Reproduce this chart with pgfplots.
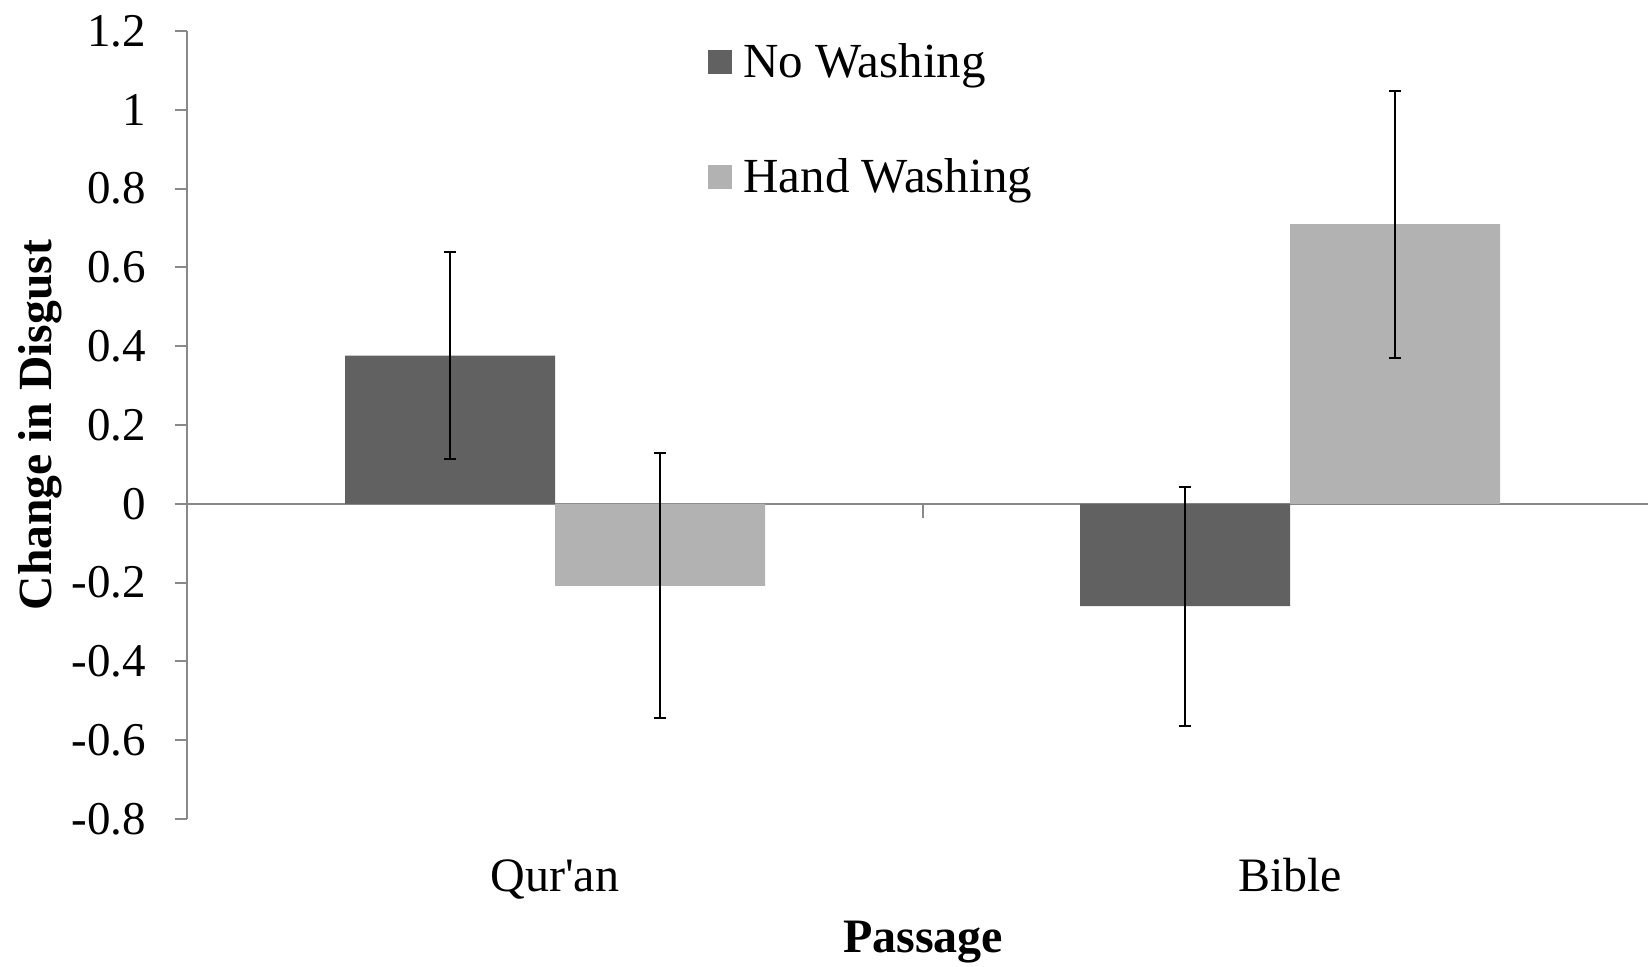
\documentclass[border=0pt]{standalone}
\usepackage{pgfplots}
\pgfplotsset{compat=1.18}
\usepackage{pgfplotstable}
\usepackage{fontspec}
\setmainfont{Liberation Serif}
\definecolor{darkbar}{RGB}{97,97,97}
\definecolor{lightbar}{RGB}{178,178,178}
\definecolor{axisgray}{RGB}{137,137,137}

\pgfplotstableread{
x y e
0 0.376 0.262
1 -0.260 0.303
}\nowash
\pgfplotstableread{
x y e
0 -0.208 0.336
1 0.710 0.339
}\handwash

\begin{document}
\begin{tikzpicture}
\begin{axis}[
  at={(0,0)}, anchor=south west,
  scale only axis,
  width=730.25pt, height=394pt,
  xmin=-0.5, xmax=1.487,
  ymin=-0.8, ymax=1.2,
  clip=false,
  ybar=0pt, bar width=105pt,
  font=\fontsize{23.5}{27}\selectfont,
  axis y line*=left,
  axis x line*=bottom,
  x axis line style={draw=none},
  y axis line style={axisgray, line width=1pt},
  ytick={-0.8,-0.6,-0.4,-0.2,0,0.2,0.4,0.6,0.8,1,1.2},
  yticklabels={-0.8,-0.6,-0.4,-0.2,0,0.2,0.4,0.6,0.8,1,1.2},
  ytick style={axisgray, line width=1pt},
  tick align=outside,
  major tick length=6.5pt,
  yticklabel style={anchor=east, inner sep=0pt, xshift=-14pt},
  xtick={0,1},
  xticklabels={Qur\textquotesingle an, Bible},
  xtick style={draw=none},
  xticklabel style={anchor=base, inner sep=0pt, yshift=-29.5pt, font=\fontsize{24}{28}\selectfont},
  extra y ticks={0},
  extra y tick labels={},
  extra y tick style={grid=major, major grid style={axisgray, line width=1pt}, tick style={draw=none}},
  ylabel={\bfseries Change in Disgust},
  ylabel style={at={(axis description cs:-0.101,0.5)}, anchor=center, rotate=0, font=\fontsize{23.8}{28}\selectfont},
  xlabel={\bfseries Passage},
  xlabel style={at={(axis description cs:0.5036,-0.170)}, anchor=base, font=\fontsize{24}{28}\selectfont},
  legend style={at={(axis description cs:0.3564,0.985)}, anchor=north west, draw=none, fill=none,
    font=\fontsize{24.5}{28}\selectfont, row sep=39pt, inner sep=0pt,
    nodes={inner sep=0pt, anchor=west}},
  legend cell align=left,
  legend image code/.code={\fill[#1] (0pt,-6pt) rectangle (12pt,6pt); \path (17.5pt,0pt);},
]
\addplot[fill=darkbar, draw=none,
  error bars/.cd, y dir=both, y explicit,
  error bar style={black, line width=1pt},
  error mark options={rotate=90, mark size=3pt, black, line width=1pt}]
  table[x=x, y=y, y error=e] {\nowash};
\addlegendentry{No Washing}
\addplot[fill=lightbar, draw=none,
  error bars/.cd, y dir=both, y explicit,
  error bar style={black, line width=1pt},
  error mark options={rotate=90, mark size=3pt, black, line width=1pt}]
  table[x=x, y=y, y error=e] {\handwash};
\addlegendentry{Hand Washing}
\draw[axisgray, line width=1pt] (axis cs:0.5,0) -- ++(0pt,-7pt);
\end{axis}
\pgfresetboundingbox
\path[use as bounding box] (-93.75pt,-73.5pt) rectangle (730.25pt,409.5pt);
\end{tikzpicture}
\end{document}
